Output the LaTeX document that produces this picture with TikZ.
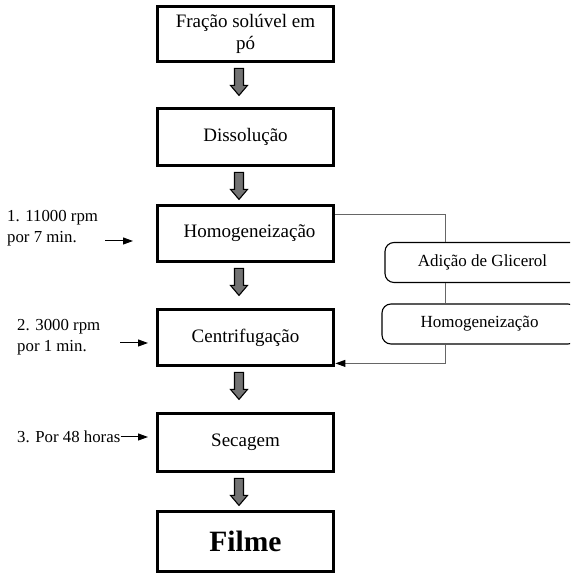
\documentclass[tikz,border=0pt]{standalone}
\usepackage{fontspec}
\setmainfont{Liberation Serif}
\usetikzlibrary{arrows.meta}

\tikzset{
    stepbox/.style={draw, line width=3.8pt, minimum width=176pt, align=center,
        font=\fontsize{19}{22}\selectfont},
    sidebox/.style={draw, line width=1.1pt, rounded corners=9pt, minimum width=195pt,
        minimum height=40pt, font=\fontsize{17}{20}\selectfont},
    notetext/.style={align=left, inner sep=0pt, font=\fontsize{16.8}{21}\selectfont},
    blockarrow/.style={draw=black, fill=black!55, line width=1.1pt, line join=miter},
    sidearrow/.style={-{Triangle[length=10pt,width=7pt,color=black]}, line width=1pt},
    feedline/.style={draw=black!60, line width=1pt}
}

\begin{document}
\begin{tikzpicture}[x=1pt,y=1pt]
    \useasboundingbox (0,0) rectangle (570,575);
    \clip (0,0) rectangle (570,575);

    % Main process steps
    \node[stepbox, minimum height=55pt] (frac) at (245.5,541) {Fração solúvel em\\pó};
    \node[stepbox, minimum height=57pt] (diss) at (245.5,438) {Dissolução};
    \node[stepbox, minimum height=56pt] (homog) at (245.5,341.5) {\hspace{8pt}Homogeneização};
    \node[stepbox, minimum height=56pt] (centr) at (245.5,237.5) {Centrifugação};
    \node[stepbox, minimum height=58pt] (sec) at (245.5,132.5) {Secagem};
    \node[stepbox, minimum height=60pt, font=\fontsize{29.5}{32}\selectfont\bfseries] (filme) at (245.5,33.5) {Filme};

    % Grey block arrows between the steps
    \foreach \a in {frac,diss,homog,centr,sec}{
        \path (\a.south) ++(-6.5,-5) coordinate (top);
        \draw[blockarrow] (top) ++(-4.5,0) -- ++(0,-17) -- ++(-4,0) -- ++(8.5,-10)
            -- ++(8.5,10) -- ++(-4,0) -- ++(0,17) -- cycle;
    }

    % Conditions on the left
    \node[notetext, anchor=west] (lab1) at (7,347) {1. 11000 rpm\\por 7 min.};
    \node[notetext, anchor=west] (lab2) at (17,238) {2. 3000 rpm\\por 1 min.};
    \node[notetext, anchor=west] (lab3) at (17,138) {3. Por 48 horas};
    \coordinate (s1) at (105,334);
    \coordinate (e1) at (133,334);
    \coordinate (s2) at (120,232);
    \coordinate (e2) at (148,232);
    \coordinate (e3) at (148,138);
    \draw[sidearrow] (s1) -- (e1);
    \draw[sidearrow] (s2) -- (e2);
    \draw[sidearrow] (lab3.east) -- (e3);

    % Side branch: glycerol
    \node[sidebox] (glic) at (482.5,312.5) {Adição de Glicerol};
    \node[sidebox] (homog2) at (479.5,251) {Homogeneização};
    \draw[feedline] ([yshift=-11pt]homog.north east) -| (glic.north -| 445,0);
    \draw[feedline] (glic.south -| 445,0) -- (homog2.north -| 445,0);
    \draw[feedline, sidearrow, draw=black!60] (homog2.south -| 445,0) |- ([yshift=4pt]centr.south east);
\end{tikzpicture}
\end{document}
